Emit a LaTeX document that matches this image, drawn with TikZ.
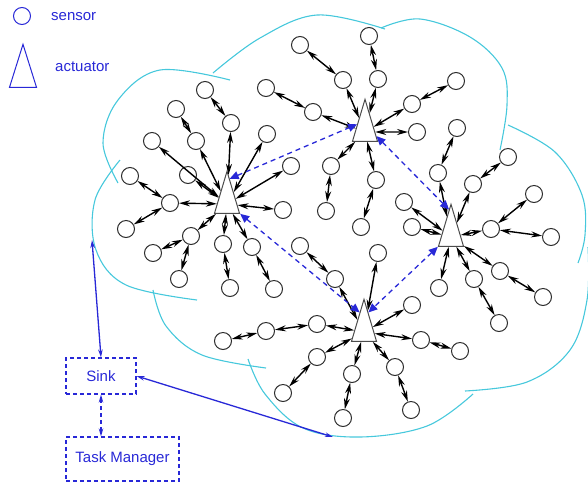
\documentclass[tikz,border=0pt]{standalone}
\usepackage{fontspec}
\setmainfont{Liberation Sans}
\usetikzlibrary{arrows.meta,shapes.geometric,calc}
\definecolor{bl}{RGB}{40,40,215}
\definecolor{cl}{RGB}{70,200,220}
\definecolor{sg}{RGB}{45,45,45}
\begin{document}
\begin{tikzpicture}[x=1pt,y=-1pt,
  font=\fontsize{15pt}{18pt}\selectfont,
  sensor/.style={circle,draw=sg,line width=1pt,minimum size=17pt,inner sep=0pt,fill=white},
  act/.style={isosceles triangle,shape border rotate=90,isosceles triangle stretches,
    minimum width=25pt,minimum height=42pt,inner sep=0pt,draw=gray!60!black,line width=1pt,fill=white},
  link/.style={line width=1.4pt,black,{Stealth[length=11pt,width=6pt]}-{Stealth[length=11pt,width=6pt]}},
  alink/.style={bl,line width=1.3pt,dash pattern=on 5pt off 4pt,{Triangle[length=9pt,width=8pt]}-{Triangle[length=9pt,width=8pt]}},
  barrow/.style={bl,line width=1.3pt,{Stealth[length=8pt,width=4.5pt]}-{Stealth[length=8pt,width=4.5pt]}},
  box/.style={draw=bl,text=bl,line width=1.1pt,dash pattern=on 4pt off 3pt,inner sep=0pt},
  cloud/.style={cl,line width=1.1pt}]
\useasboundingbox (0,0) rectangle (588,483);
% legend
\node[sensor,draw=bl] (ls) at (22,16) {};
\node[anchor=west,text=bl,inner sep=0pt] (lst) at (51,17) {sensor};
\node[act,draw=bl,minimum width=27pt,minimum height=43pt,anchor=apex] (la) at (23,43) {};
\node[anchor=west,text=bl,inner sep=0pt] (lat) at (55,67) {actuator};
% cloud
\draw[cloud] plot[smooth,tension=0.6] coordinates {(230,80) (160,70) (118,100) (103,143) (118,183)};
\draw[cloud] plot[smooth,tension=0.6] coordinates {(213,73) (260,38) (317,15) (385,29)};
\draw[cloud] plot[smooth,tension=0.6] coordinates {(381,28) (420,19) (470,37) (502,68) (507,105) (500,150)};
\draw[cloud] plot[smooth,tension=0.6] coordinates {(508,125) (555,152) (582,195) (585,235) (578,263)};
\draw[cloud] plot[smooth,tension=0.6] coordinates {(588,247) (587,300) (570,350) (527,382) (465,391)};
\draw[cloud] plot[smooth,tension=0.6] coordinates {(473,394) (427,426) (360,437) (303,428) (265,394) (248,359)};
\draw[cloud] plot[smooth,tension=0.6] coordinates {(153,290) (166,326) (202,355) (266,368)};
\draw[cloud] plot[smooth,tension=0.6] coordinates {(120,160) (95,200) (96,250) (126,285) (197,300)};
% actuators
\node[act,anchor=apex] (A1) at (227,170) {};
\node[act,anchor=apex] (A2) at (365,98) {};
\node[act,anchor=apex] (A3) at (451,203) {};
\node[act,anchor=apex] (A4) at (364,298) {};
% sensors
\foreach \n/\x/\y in {s1/205/90, s2/176/109, s3/231/123, s4/152/141, s5/196/141, s6/267/134,
  s7/130/176, s8/188/175, s9/291/166, s10/170/203, s11/283/210, s12/126/229, s13/191/236,
  s14/223/244, s15/252/247, s16/153/253, s17/179/279, s18/230/288, s19/274/289,
  t1/369/36, t2/300/45, t3/378/79, t4/343/80, t5/266/88, t6/456/81, t7/412/104, t8/313/112,
  t9/417/132, t12/331/166, t13/376/180, t14/326/211, t15/361/227,
  u1/457/128, u2/508/157, u3/438/173, u4/473/184, u5/404/202, u6/534/194, u7/412/227,
  u8/491/229, u9/551/237, u10/500/271, u11/474/279, u12/439/288, u13/543/297, u14/499/323,
  v1/300/246, v2/378/253, v3/335/279, v4/412/305, v5/317/324, v6/266/331, v7/223/341,
  v8/421/340, v9/460/351, v10/317/357, v11/395/367, v12/352/374, v13/283/393, v14/411/410, v15/343/418}
  \node[sensor] (\n) at (\x,\y) {};
% links
\foreach \a/\b in {s1/s3, s3/A1, s2/s5, s5/A1, s4/A1, s6/A1, s8/A1, s9/A1, s7/s10, s12/s10, s10/A1,
  s11/A1, s13/A1, s16/s13, s17/s13, s14/A1, s18/s14, s15/A1, s19/s15,
  t1/t3, t3/A2, t2/t4, t4/A2, t5/t8, t8/A2, t6/t7, t7/A2, t9/A2, t12/A2, t12/t14, t13/A2, t13/t15,
  u1/u3, u3/A3, u2/u4, u4/A3, u5/A3, u7/A3, u8/A3, u6/u8, u9/u8, u10/A3, u13/u10, u11/A3, u14/u11, u12/A3,
  v1/v3, v3/A4, v2/A4, v4/A4, v5/A4, v6/v5, v7/v6, v8/A4, v9/v8, v10/A4, v13/v10, v11/A4, v14/v11, v12/A4, v15/v12}
  \draw[link] (\a) -- (\b);
% actuator links
\draw[alink] ($(A1.apex)!0.2!(A1.right corner)$) -- ($(A2.apex)!0.6!(A2.left corner)$);
\draw[alink] (A1.right corner) -- ($(A4.apex)!0.33!(A4.left corner)$);
\draw[alink] ($(A2.apex)!0.87!(A2.right corner)$) -- ($(A3.apex)!0.15!(A3.left corner)$);
\draw[alink] (A3.left corner) -- ($(A4.apex)!0.33!(A4.right corner)$);
% sink and task manager
\node[box,minimum width=70pt,minimum height=36pt] (sink) at (101,376) {Sink};
\node[box,minimum width=113pt,minimum height=44pt] (tm) at (122.5,459) {Task Manager};
\coordinate (c1) at (92,240);
\coordinate (c2) at (333,437);
\draw[barrow] (sink.north) -- (c1);
\draw[barrow] (sink.east) -- (c2);
\draw[barrow,dash pattern=on 4pt off 3pt] (sink.south) -- (sink.south |- tm.north);
\end{tikzpicture}
\end{document}
